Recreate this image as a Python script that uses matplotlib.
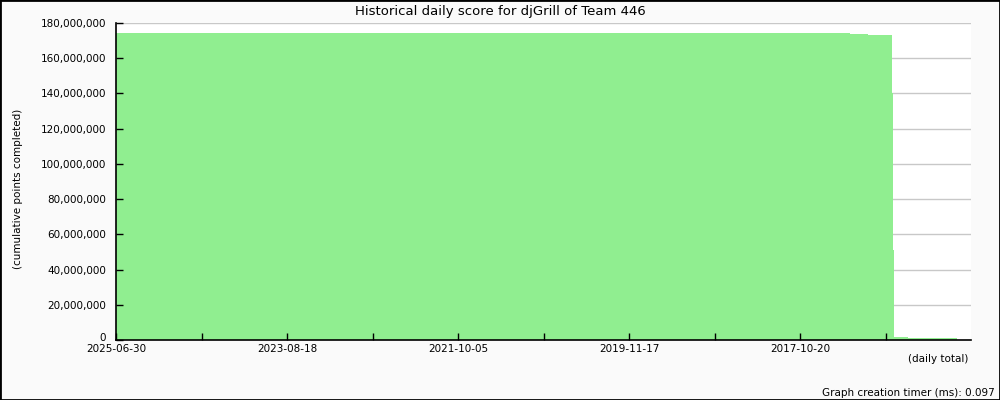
import matplotlib.pyplot as plt
import matplotlib.transforms as mtransforms
from matplotlib.patches import Rectangle
from matplotlib.ticker import FuncFormatter

# Passos da série acumulada (posição no eixo x em unidades de índice, valor em pontos)
bordas = [0, 858.5, 879.5, 907.6, 908.8, 910, 926.3, 955.6, 983.6]
pontos = [174_500_000, 173_800_000, 173_200_000, 140_000_000, 51_000_000,
          1_900_000, 1_200_000, 900_000]

pos_ticks = [0, 100, 200, 300, 400, 500, 600, 700, 800, 900]
rotulos_x = ['2025-06-30', '', '2023-08-18', '', '2021-10-05', '',
             '2019-11-17', '', '2017-10-20', '']

plt.rcParams['font.family'] = 'DejaVu Sans'
plt.rcParams['font.size'] = 7.5

fig = plt.figure(figsize=(10, 4), dpi=100, facecolor='#fafafa')
ax = fig.add_axes([0.116, 0.15, 0.855, 0.7925])
ax.set_facecolor('white')

# grade horizontal
for v in range(20_000_000, 180_000_001, 20_000_000):
    ax.axhline(v, color='#c8c8c8', linewidth=1, zorder=0)

ax.stairs(pontos, bordas, fill=True, color='#90ee90', linewidth=0, zorder=1)

ax.set_xlim(0, 1000)
ax.set_ylim(0, 180_000_000)
ax.set_xticks(pos_ticks)
ax.set_xticklabels(rotulos_x)
ax.set_yticks(range(0, 180_000_001, 20_000_000))
ax.yaxis.set_major_formatter(FuncFormatter(lambda v, p: f'{int(v):,}'))
ax.tick_params(direction='in', length=5, width=1, color='black')
ax.tick_params(axis='y', pad=7)
ax.tick_params(axis='x', pad=3)

# o "0" fica um pouco acima do eixo, como no original
fig.canvas.draw()
zero = ax.get_yticklabels()[0]
zero.set_transform(zero.get_transform() +
                   mtransforms.ScaledTranslation(0, 2 / 72, fig.dpi_scale_trans))

for lado in ['top', 'right']:
    ax.spines[lado].set_visible(False)
for lado in ['left', 'bottom']:
    ax.spines[lado].set_linewidth(1.2)
    ax.spines[lado].set_zorder(3)

fig.text(0.5, 0.9725, 'Historical daily score for djGrill of Team 446',
         ha='center', va='center', fontsize=9.5)
fig.text(0.018, 0.5275, '(cumulative points completed)', rotation=90,
         ha='center', va='center')
fig.text(0.968, 0.1025, '(daily total)', ha='right', va='center')
fig.text(0.995, 0.0175, 'Graph creation timer (ms): 0.097', ha='right', va='center')

# moldura preta da figura
fig.patches.append(Rectangle((0, 0), 1, 1, transform=fig.transFigure,
                             fill=False, edgecolor='black', linewidth=2))

fig.savefig('out.png', dpi=100, facecolor=fig.get_facecolor())
